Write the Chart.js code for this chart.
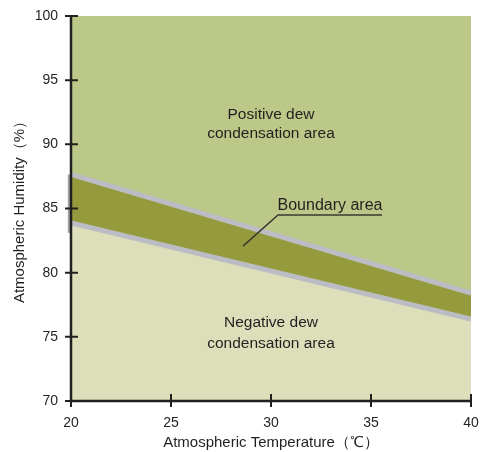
<!DOCTYPE html>
<html><head><meta charset="utf-8">
<script src="https://cdn.jsdelivr.net/npm/chart.js@4/dist/chart.umd.min.js"></script>
<style>html,body{margin:0;padding:0;background:#fff}#wrap{width:481px;height:452px}</style>
</head><body><div id="wrap"><canvas id="c" width="481" height="452"></canvas></div>
<script>
const temperatures = [20, 40];
const upperBoundary = [87.65, 78.4];
const lowerBoundary = [83.87, 76.38];
const xTicks = [20, 25, 30, 35, 40];
const yTicks = [70, 75, 80, 85, 90, 95, 100];
const labels = {
  positive: ['Positive dew', 'condensation area'],
  negative: ['Negative dew', 'condensation area'],
  boundary: 'Boundary area'
};
const FONT = '"Liberation Sans", Arial, sans-serif';
const INK = '#231f20';

const bgPlugin = {
  id: 'bg',
  beforeDatasetsDraw(chart) {
    const {ctx, chartArea: a} = chart;
    ctx.save(); ctx.fillStyle = '#dcdfba';
    ctx.fillRect(a.left, a.top, a.right - a.left, a.bottom - a.top);
    ctx.restore();
  }
};
const axisPlugin = {
  id: 'axisTicks',
  afterDraw(chart) {
    const {ctx, chartArea: a, scales: {x, y}} = chart;
    ctx.save();
    ctx.fillStyle = INK; ctx.strokeStyle = INK;
    ctx.font = '15.5px ' + FONT; ctx.textAlign = 'center'; ctx.textBaseline = 'middle';
    const cx = x.getPixelForValue(30);
    ctx.fillText(labels.positive[0], cx, y.getPixelForValue(92.28));
    ctx.fillText(labels.positive[1], cx, y.getPixelForValue(90.8));
    ctx.fillText(labels.negative[0], cx, y.getPixelForValue(76.07));
    ctx.fillText(labels.negative[1], cx, y.getPixelForValue(74.5));
    ctx.font = '16px ' + FONT;
    ctx.fillText(labels.boundary, x.getPixelForValue(32.95), y.getPixelForValue(85.25));
    ctx.lineWidth = 1.5;
    ctx.strokeStyle = '#3a3a30';
    ctx.beginPath();
    ctx.moveTo(x.getPixelForValue(35.55), y.getPixelForValue(84.5));
    ctx.lineTo(x.getPixelForValue(30.35), y.getPixelForValue(84.5));
    ctx.lineTo(x.getPixelForValue(28.6), y.getPixelForValue(82.07));
    ctx.stroke();
    // small grey edge mark beside the axis at the boundary band
    ctx.fillStyle = '#a4a4a4';
    const yt = y.getPixelForValue(upperBoundary[0]), yb = y.getPixelForValue(83.1);
    ctx.fillRect(a.left - 3.2, yt, 2.2, yb - yt);
    // axes
    ctx.strokeStyle = INK; ctx.lineWidth = 2.5;
    ctx.beginPath();
    ctx.moveTo(a.left, a.top); ctx.lineTo(a.left, a.bottom); ctx.lineTo(a.right, a.bottom);
    ctx.stroke();
    ctx.lineWidth = 2;
    ctx.beginPath();
    xTicks.forEach(v => { const px = x.getPixelForValue(v); ctx.moveTo(px, a.bottom - 7); ctx.lineTo(px, a.bottom + 6); });
    yTicks.forEach(v => { const py = y.getPixelForValue(v); ctx.moveTo(a.left - 6, py); ctx.lineTo(a.left + 7, py); });
    ctx.stroke();
    ctx.restore();
  }
};

new Chart(document.getElementById('c'), {
  type: 'line',
  data: {
    datasets: [
      {
        data: temperatures.map((t, i) => ({x: t, y: upperBoundary[i]})),
        borderColor: '#bcbcc4', borderWidth: 5, pointRadius: 0,
        fill: 'end', backgroundColor: '#bbc887'
      },
      {
        data: temperatures.map((t, i) => ({x: t, y: lowerBoundary[i]})),
        borderColor: '#bcbcc4', borderWidth: 5, pointRadius: 0,
        fill: '-1', backgroundColor: '#959b3d'
      }
    ]
  },
  options: {
    responsive: false, animation: false,
    layout: {padding: {top: 16, right: 10, left: 0, bottom: 0}},
    plugins: {legend: {display: false}, tooltip: {enabled: false}},
    scales: {
      x: {
        type: 'linear', min: 20, max: 40,
        afterBuildTicks: s => { s.ticks = xTicks.map(v => ({value: v})); },
        afterFit: s => { s.height = 51; s.paddingLeft = 0; s.paddingRight = 0; },
        border: {display: false},
        grid: {display: false, drawTicks: false},
        ticks: {color: INK, font: {size: 14, family: FONT}, padding: 14, maxRotation: 0},
        title: {display: true, text: 'Atmospheric Temperature（℃）', color: INK, font: {size: 15, family: FONT}, padding: {top: 0, bottom: 0}}
      },
      y: {
        min: 70, max: 100,
        afterBuildTicks: s => { s.ticks = yTicks.map(v => ({value: v})); },
        afterFit: s => { s.width = 71; s.paddingTop = 0; s.paddingBottom = 0; },
        border: {display: false},
        grid: {display: false, drawTicks: false},
        ticks: {color: INK, font: {size: 14, family: FONT}, padding: 13},
        title: {display: true, text: 'Atmospheric Humidity（%）', color: INK, font: {size: 15, family: FONT}, padding: {top: 11, bottom: 0}}
      }
    }
  },
  plugins: [bgPlugin, axisPlugin]
});
</script></body></html>
